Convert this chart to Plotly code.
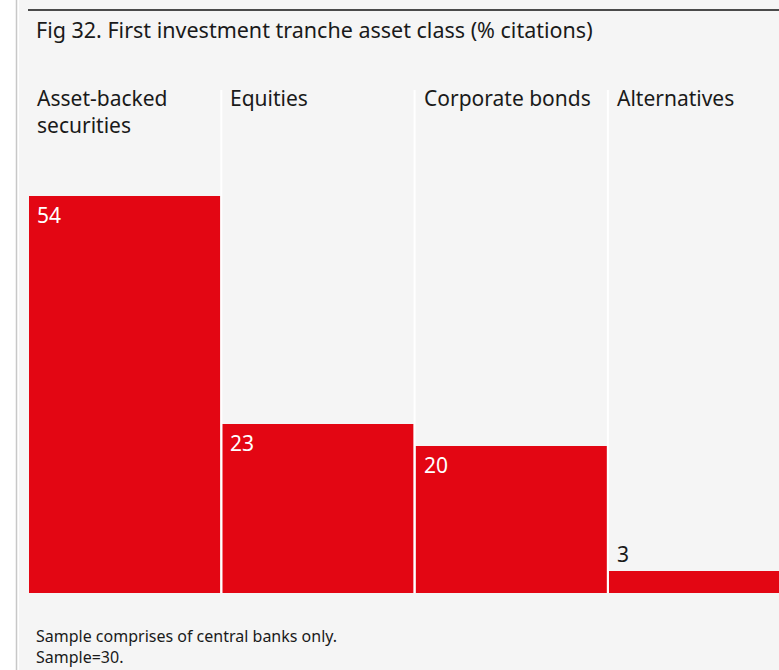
import plotly.graph_objects as go

categories = ["Asset-backed<br>securities", "Equities", "Corporate bonds", "Alternatives"]
values = [54, 23, 20, 3]
title_text = "Fig 32. First investment tranche asset class (% citations)"
footer_text = "Sample comprises of central banks only.<br>Sample=30."

RED = "#e30613"
BG = "#f5f5f5"
FONT = "Noto Sans"

W, H = 779, 670
ML, MR, MT, MB = 28, 0, 90, 77
pw = W - ML - MR
ph = H - MT - MB
col_px = 193.3
px_per_unit = 7.35

xs = list(range(len(values)))
fig = go.Figure()
fig.add_trace(go.Bar(x=xs, y=values, marker=dict(color=RED, line=dict(width=0)),
                     hoverinfo="skip"))

shapes = []
# white left strip and gray line
shapes.append(dict(type="rect", xref="paper", yref="paper",
                   x0=-ML / pw, x1=-9 / pw, y0=-MB / ph, y1=1 + MT / ph,
                   fillcolor="white", line=dict(width=0), layer="below"))
shapes.append(dict(type="line", xref="paper", yref="paper",
                   x0=-11.5 / pw, x1=-11.5 / pw, y0=-MB / ph, y1=1 + MT / ph,
                   line=dict(color="#c8c8c8", width=1.5)))
# top black rule
shapes.append(dict(type="line", xref="paper", yref="paper",
                   x0=0, x1=1, y0=1 + 80 / ph, y1=1 + 80 / ph,
                   line=dict(color="#111111", width=1.5)))
# column separators
for i in range(1, len(values)):
    shapes.append(dict(type="line", xref="x", yref="paper",
                       x0=i - 0.5, x1=i - 0.5, y0=0, y1=1,
                       line=dict(color="white", width=2), layer="above"))

annotations = []
annotations.append(dict(text=title_text, xref="paper", yref="paper", x=0, y=1,
                        xanchor="left", yanchor="middle", xshift=6, yshift=61,
                        showarrow=False, font=dict(family=FONT, size=21.5, color="#1a1a1a")))
annotations.append(dict(text=footer_text, xref="paper", yref="paper", x=0, y=0,
                        xanchor="left", yanchor="top", xshift=6, yshift=-30,
                        showarrow=False, align="left",
                        font=dict(family=FONT, size=16, color="#1a1a1a")))
for i, c in enumerate(categories):
    annotations.append(dict(text=c, xref="x", yref="paper", x=i - 0.5, y=1,
                            xanchor="left", yanchor="top", xshift=7, yshift=8,
                            showarrow=False, align="left",
                            font=dict(family=FONT, size=21, color="#1a1a1a")))
for i, v in enumerate(values):
    inside = v > 8
    annotations.append(dict(text=str(v), xref="x", yref="y", x=i - 0.5, y=v,
                            xanchor="left", yanchor="top" if inside else "bottom",
                            xshift=7, yshift=-3 if inside else 1,
                            showarrow=False,
                            font=dict(family=FONT, size=21,
                                      color="white" if inside else "#1a1a1a")))

fig.update_layout(
    width=W, height=H,
    margin=dict(l=ML, r=MR, t=MT, b=MB, pad=0),
    paper_bgcolor=BG, plot_bgcolor=BG,
    bargap=2 / col_px,
    showlegend=False,
    shapes=shapes,
    annotations=annotations,
    xaxis=dict(range=[-0.5, -0.5 + pw / col_px], visible=False, fixedrange=True),
    yaxis=dict(range=[0, ph / px_per_unit], visible=False, fixedrange=True),
)

fig.write_html("out.html", config={"displayModeBar": False},
               post_script="document.body.style.margin='0';document.body.style.overflow='hidden';")
